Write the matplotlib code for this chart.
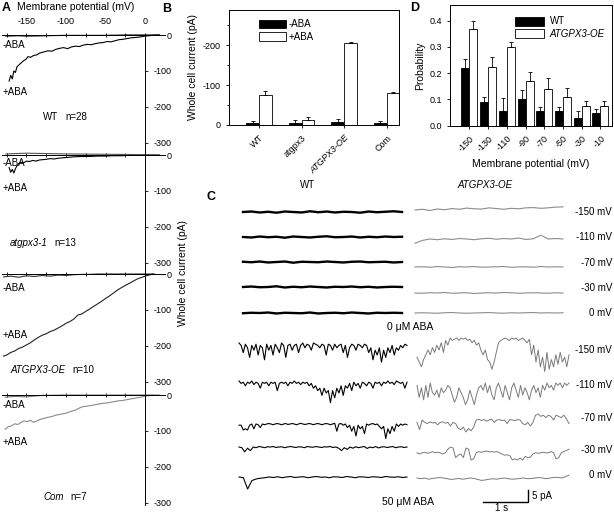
import numpy as np
import matplotlib.pyplot as plt
from matplotlib.patches import Patch

plt.rcParams['font.family'] = ['Liberation Sans', 'DejaVu Sans']
plt.rcParams['font.size'] = 7
plt.rcParams['axes.linewidth'] = 0.7
plt.rcParams['axes.unicode_minus'] = False

# ---------------- panel A : I-V curves (mV, pA) ----------------
wt_plus_mv = [-172, -170, -168, -166, -164, -162, -160, -157, -154, -151, -148, -145, -141, -137, -133,
              -128, -123, -118, -113, -108, -103, -98, -93, -88, -83, -78, -73, -68, -63, -58, -53, -48,
              -43, -38, -33, -28, -23, -18, -13, -8, -3, 0, 5, 10, 18]
wt_plus_pa = [-128, -112, -122, -100, -104, -88, -84, -78, -72, -68, -60, -62, -57, -55, -50,
              -47, -44, -45, -40, -37, -35, -38, -33, -31, -32, -28, -26, -27, -24, -22, -21, -18,
              -19, -16, -13, -12, -10, -8, -7, -6, -4, -3, -2, -1, 0]
wt_minus_mv = [-176, -160, -150, -125, -100, -75, -50, -25, 0, 18]
wt_minus_pa = [-3, -2, -3, -2, -1, -1, -1, 0, 0, 0]

gpx_plus_mv = [-172, -170, -168, -166, -164, -162, -160, -157, -154, -150, -146, -142, -138, -134, -130,
               -125, -120, -115, -110, -105, -100, -90, -80, -70, -60, -50, -40, -30, -20, -10, 0, 10, 18]
gpx_plus_pa = [-35, -48, -40, -50, -38, -30, -24, -20, -22, -17, -18, -15, -17, -14, -13,
               -12, -10, -11, -9, -8, -7, -5, -4, -4, -3, -3, -2, -2, -1, -1, 0, 0, 0]
gpx_minus_mv = [-176, -150, -125, -100, -50, 0, 18]
gpx_minus_pa = [3, 5, 4, 3, 2, 1, 0]

oe_plus_mv = [-179, -175, -170, -165, -160, -155, -150, -145, -140, -135, -130, -125, -120, -115, -110,
              -105, -100, -95, -90, -85, -80, -75, -70, -65, -60, -55, -50, -45, -40, -35, -30, -25,
              -20, -15, -10, -5, 0, 5, 10]
oe_plus_pa = [-228, -225, -218, -214, -207, -203, -197, -191, -183, -176, -170, -166, -160, -156, -150,
              -144, -137, -132, -125, -114, -111, -104, -97, -90, -83, -76, -68, -61, -53, -45, -38, -32,
              -26, -20, -14, -10, -6, -3, 0]
oe_minus_mv = [-179, -170, -160, -150, -140, -130, -120, -110, -100, -90, -80, -70, -60, 0, 12]
oe_minus_pa = [-8, -6, -9, -5, -7, -4, -6, -3, -4, -2, -1, -1, 0, 0, 0]

com_plus_mv = [-177, -173, -169, -165, -161, -157, -153, -149, -145, -141, -137, -133, -128, -123, -118,
               -113, -108, -103, -98, -93, -88, -83, -78, -73, -68, -63, -58, -53, -48, -43, -38, -33,
               -28, -23, -18, -13, -8, -3, 2, 10]
com_plus_pa = [-95, -88, -86, -80, -82, -76, -72, -74, -70, -76, -72, -68, -65, -62, -60,
               -56, -54, -52, -49, -45, -42, -36, -32, -31, -29, -27, -25, -23, -22, -20, -18, -16,
               -15, -13, -11, -9, -7, -5, -3, 0]
com_minus_mv = [-177, -165, -150, -140, -130, -100, -50, 0, 18]
com_minus_pa = [-6, -4, -5, -3, -1, 0, 0, 0, 0]

a_names = ['WT', 'atgpx3-1', 'ATGPX3-OE', 'Com']
a_n = [28, 13, 10, 7]

# ---------------- panel B : whole cell current ----------------
b_labels = ['WT', 'atgpx3', 'ATGPX3-OE', 'Com']
b_minus = [6, 5, 8, 6]
b_minus_err = [3, 7, 6, 4]
b_plus = [76, 13, 206, 80]
b_plus_err = [10, 7, 3, 3]

# ---------------- panel D : open probability ----------------
d_labels = ['-150', '-130', '-110', '-90', '-70', '-50', '-30', '-10']
d_wt = [0.22, 0.09, 0.055, 0.10, 0.055, 0.055, 0.03, 0.05]
d_wt_err = [0.035, 0.02, 0.05, 0.035, 0.015, 0.015, 0.025, 0.015]
d_oe = [0.37, 0.225, 0.30, 0.17, 0.14, 0.11, 0.075, 0.075]
d_oe_err = [0.03, 0.035, 0.02, 0.035, 0.04, 0.035, 0.02, 0.02]

# ---------------- panel C : single channel traces (pA) ----------------
c_volts = ['-150 mV', '-110 mV', '-70 mV', '-30 mV', '0 mV']
wt_ctrl = [
    [0, 0.2, -0.2, 0.1, -0.3, 0.2, 0, -0.2, 0.3, -0.1, 0.2, -0.2, 0.1, 0, -0.3, 0.2, -0.1, 0.1, 0.3, 0],
    [0, -0.2, 0.2, -0.1, 0.1, -0.3, 0.2, 0, -0.2, 0.1, 0.3, -0.1, 0, 0.2, -0.2, 0.1, -0.1, 0.2, 0, 0.1],
    [0.1, -0.1, 0.2, -0.2, 0, 0.2, -0.3, 0.1, 0, -0.1, 0.2, 0, -0.2, 0.1, 0.2, -0.1, 0, 0.1, -0.2, 0],
    [0, 0.2, -0.1, 0, 0.3, -0.2, 0.1, -0.1, 0.2, 0, -0.2, 0.1, 0, 0.2, -0.1, 0.1, -0.2, 0, 0.1, 0],
    [-0.1, 0.1, 0, 0.2, -0.2, 0.1, 0, -0.1, 0.2, -0.2, 0, 0.1, -0.1, 0.2, 0, -0.2, 0.1, 0, 0.1, 0],
]
oe_ctrl = [
    [0, 0.3, -0.2, 0.4, 0.1, 0.6, 0.3, 0.8, 0.5, 0.4, 0.9, 0.6, 0.3, 0.7, 0.5, 0.9, 1.0, 0.7, 0.9, 1.2, 1.3],
    [-1.8, -0.6, 0, -0.3, 0.1, -0.2, 0.2, 0, -0.3, 0.1, 0.3, -0.1, 0.2, 0, 0.4, -0.2, 0.1, 1.6, 0, 0.2, 0],
    [0, 0.1, -0.1, 0.2, 0, -0.2, 0.1, 0, 0.2, -0.1, 0, 0.1, 0.2, -0.1, 0, 0.1, -0.1, 0.2, 0, 0.1, 0],
    [0, -0.1, 0.1, 0, 0.2, -0.1, 0, 0.1, -0.2, 0, 0.1, 0, 0.2, 0.1, -0.1, 0, 0.1, 0, -0.1, 0.1, 0],
    [0, 0.1, 0, -0.1, 0.1, 0.2, 0, -0.1, 0, 0.1, 0.2, 0, -0.1, 0.1, 0, 0.1, 0.2, 0, 0.1, 0, 0.1],
]
wt_aba_150 = [0, -1, -4, -0.5, -2, -6, -1, -3, -0.5, -5, -1, -2, -7, -0.5, -3, -1, -5, -0.5, -2, -4,
              0, -1, -6, -1, -0.5, -3, -1, -0.5, -4, -1, 0, -2, -0.5, -1, -3, 0, -0.5, -1, -2, -0.5,
              -1, -5, -0.5, -1, -3, -0.5, -2, -1, -0.5, -4, -1, -6, -2, -0.5, -1, -3, -0.5, -1, -2, -0.5,
              -1, -4, -2, -7, -3, -5, -2, -8, -3, -6, -2, -4, -1, -5, -2, -3, -1, -2, -0.5, -1]
wt_aba_110 = [0, -1, -0.5, -2, -0.5, -1, 0, -1.5, -0.5, -1, -3, -0.5, -1, -0.5, -2, -0.5, -1, -0.5, -4, -1,
              -0.5, -1, -0.5, -2, -0.5, -1, 0, -1, -0.5, -1.5, -0.5, -1, -0.5, -2, -1, -3, -2, -4, -3, -6,
              -3, -5, -4, -9, -4, -7, -3, -5, -2, -6, -2, -3, -1, -4, -0.5, -2, -1, -3, -0.5, -1,
              -2, -0.5, -1, -3, -0.5, -1, -0.5, -2, -0.5, -1, 0, -1, -0.5, -1.5, 0, -0.5, -1, -0.5, -3, -0.5]
wt_aba_70 = [-0.5, -0.5, -2.5, -2, -2.5, -0.5, 0, -2, 0, -0.3, -1.5, 0, -0.3, 0, 0.2, 0, -0.3, 0, 0.2, 0,
             -0.3, 0, 0.2, -0.2, 0, 0.2, 0, -0.3, 0, 0.3, 0, -0.2, 0, 0.2, 0, -0.3, 0, 0.2, 0, -0.3,
             0, 0.2, 0, -0.3, 0, 0.3, -3, 0, 0.2, -0.5, 0, -1.5, -0.5, -3, -1, -5, -0.5, -2, -1, -4,
             0, -0.5, 0, 0.2, -0.3, 0, -1, -2, -1, -6, -2, -4, -1, -3, 0, -1, 0, -0.5, 0, -0.3]
wt_aba_30 = [0, -0.3, -2, -0.5, -1.5, 0, -0.3, 0.2, 0, -0.3, 0.1, 0, 0.2, -0.2, 0, 0.1, -0.3, 0, 0.2, 0,
             -0.2, 0.1, 0, -0.3, 0.2, 0, -0.1, 0.2, 0, -0.2, 0.1, 0, 0.2, -0.2, 0, -0.5, -1.5, -0.3, -1, 0,
             -0.5, 0.1, -0.3, 0, 0.2, -0.6, 0, -0.3, 0.2, -0.4, 0, 0.1, -0.2, 0, 0.2, -0.3, 0, 0.1, -0.2, 0]
wt_aba_0 = [0, -0.3, -5, -1.5, -0.8, -0.5, -0.3, 0, -0.2, 0.1, -0.3, 0, 0.2, -0.2, 0, 0.1, -0.3, 0, 0.2, -0.1,
            0, -0.3, 0.1, 0, -0.2, 0.2, 0, -0.3, 0.1, 0, -0.2, 0.1, 0, -0.2, 0.2, 0, -0.1, 0.1, -0.2, 0]
oe_aba_150 = [-8, -10, -12, -9, -7, -5, -7, -4, -6, -3, -5, -2, -6, -1, -3, 0, -1, -0.5, 0, -1,
              0, -0.5, 0, -1, -0.5, -2, -1, -3, -2, -5, -7, -5, -9, -10, -13, -10, -6, -2, -1, -0.5,
              0, -0.5, -1, 0, -0.5, 0, -1, -0.5, 0, -1, -2, -0.5, -7, -3, -10, -5, -12, -8, -14, -6,
              -13, -9, -12, -7, -11, -6, -10, -8, -12, -7]
oe_aba_110 = [-1, -6, -2, -7, -1, -6, 0, -4, -5, -3, -6, -2, -4, -3, -1, -2, -5, -8, -6, -2,
              -4, -6, -9, -7, -3, -6, -9, -5, -2, -1, -3, 0, -4, -1, -5, -7, -2, 0, -3, -6,
              -1, -4, -7, -2, 0, -3, -6, -1, -5, -2, -4, -7, -3, -1, -4, -2, -6, -1, -3, 0,
              -2, -1, -3, 0, -1, 0, -2, 0, -1, 0]
oe_aba_70 = [-1, -4, 0, -1, -1.5, -0.8, -1.2, -1, -2, -1, -0.8, -1.3, -1, -2.5, -1, -1.5,
             -3.5, -4, -3, -5, -3.5, -4.5, -3,
             0, 0.3, -0.2, 0.2, -0.5, 0, 0.3, -1, 0, 0.2, -0.3, 0, -1.5, 0.2, 0, -0.3, 0.2, 0,
             -1.5, -2, -1, -2.5, -1,
             2, 2.5, 1.5, 2, 1, 2, 1.5, 0, 2, 1.5, 1, 2, 0.5, -1.5]
oe_aba_30 = [-2, -2.5, -2, -1.8, -2.2, -2, -1.5, -2, -1.8, -2, -2.5, -2, -0.5, 0.4, 0, -4, -3, -2.5, -4, 0,
             -0.5, -5, -4.5, -2, -1.5, -1.8, -1.5, -1.3, -1.6, -1.5, -1.7, -1.5, -2, -2.5, -3, -2.8, -3.2, -5, -4.5, -5,
             -4.2, -5, -3.5, -4, -3.8, -2.5, -2, -2.2, -2, -1.8, -2, -2, -1.5, -2, -4.5, -4, -2, -1.5, -1, -0.5]
oe_aba_0 = [0, -0.3, 0, -0.5, -0.2, 0, 0.2, 0, -0.3, -0.6, -0.4, -0.2, -0.5, -0.3, 0, -0.2, -0.6, -1, -0.8, -0.5,
            -0.3, -0.5, -0.2, 0, -0.3, -0.5, -0.4, -0.2, 0, -0.3, -0.2, 0, 0.2, 0, -0.3, 0, 0.2, 0.3, 0, 0.5, 1.2]
wt_aba = [wt_aba_150, wt_aba_110, wt_aba_70, wt_aba_30, wt_aba_0]
oe_aba = [oe_aba_150, oe_aba_110, oe_aba_70, oe_aba_30, oe_aba_0]

W, H = 614, 514
fig = plt.figure(figsize=(W / 100, H / 100), dpi=100)
renderer = fig.canvas.get_renderer()


def box(x0, y0, x1, y1):
    return [x0 / W, 1 - y1 / H, (x1 - x0) / W, (y1 - y0) / H]


def ft(x, y, s, **kw):
    kw.setdefault('va', 'center')
    return fig.text(x / W, 1 - y / H, s, **kw)


# ======== A ========
curves = [(wt_minus_mv, wt_minus_pa, wt_plus_mv, wt_plus_pa, 'black', 'black'),
          (gpx_minus_mv, gpx_minus_pa, gpx_plus_mv, gpx_plus_pa, '#555555', 'black'),
          (oe_minus_mv, oe_minus_pa, oe_plus_mv, oe_plus_pa, '#333333', '#222222'),
          (com_minus_mv, com_minus_pa, com_plus_mv, com_plus_pa, '#777777', '#8a8a8a')]
a_tops = [25, 145, 264, 385]
minus_y = [45, 163, 288, 405]
plus_y = [92, 188, 335, 442]
name_y = [117, 243, 370, 497]
name_x = [43, 10, 10, 43]
for i, top in enumerate(a_tops):
    ax = fig.add_axes(box(2, top, 165, top + 120))
    ax.patch.set_alpha(0)
    ax.set_xlim(-181, 25.3)
    ax.set_ylim(-305.6, 27.8)
    mmv, mpa, pmv, ppa, cm, cp = curves[i]
    ax.plot(pmv, ppa, color=cp, lw=0.8)
    ax.plot(mmv, mpa, color=cm, lw=0.8)
    ax.spines['left'].set_visible(False)
    ax.spines['bottom'].set_visible(False)
    ax.spines['right'].set_position(('data', 0))
    ax.spines['right'].set_bounds(-305.6, 27.8 if i > 0 else 0)
    ax.spines['top'].set_position(('data', 0))
    ax.yaxis.tick_right()
    ax.set_yticks([0, -100, -200, -300])
    ax.set_yticklabels(['0', '-100', '-200', '-300'])
    ax.tick_params(axis='y', direction='out', length=2, width=0.6, pad=17, labelsize=6.5)
    for lb in ax.get_yticklabels():
        lb.set_horizontalalignment('right')
    ax.xaxis.tick_top()
    ax.set_xticks([-150, -100, -50, 0])
    ax.set_xticks([-175, -125, -75, -25], minor=True)
    ax.tick_params(axis='x', which='both', direction='inout', length=3, width=0.6, pad=5, labelsize=6.5,
                   labeltop=(i == 0))
    ft(3, minus_y[i], '-ABA', fontsize=7)
    ft(3, plus_y[i], '+ABA', fontsize=7)
    t = ft(name_x[i], name_y[i], a_names[i], fontsize=7,
           style='normal' if a_names[i] == 'WT' else 'italic')
    x_end = t.get_window_extent(renderer).x1
    ft(x_end + 7, name_y[i], 'n=%d' % a_n[i], fontsize=7)

ft(2, 8, 'A', fontsize=9, weight='bold')
ft(17, 7, 'Membrane potential (mV)', fontsize=7.5)
ft(183, 273, 'Whole cell current (pA)', fontsize=7.5, rotation=90, ha='center')

# ======== B ========
axB = fig.add_axes(box(229, 10, 399, 125))
xb = np.arange(len(b_labels))
ekw = dict(elinewidth=0.6, capsize=1.5, capthick=0.6, ecolor='black')
axB.bar(xb - 0.15, b_minus, 0.3, color='black', edgecolor='black', lw=0.6,
        yerr=[np.zeros(4), b_minus_err], error_kw=ekw, label='-ABA')
axB.bar(xb + 0.15, b_plus, 0.3, color='white', edgecolor='black', lw=0.6,
        yerr=[np.zeros(4), b_plus_err], error_kw=ekw, label='+ABA')
axB.set_xlim(-0.706, 3.29)
axB.set_ylim(0, 288)
axB.set_yticks([0, 100, 200])
axB.set_yticklabels(['0', '-100', '-200'])
axB.set_yticks([50, 150, 250], minor=True)
axB.set_xticks(xb)
axB.set_xticklabels(b_labels, rotation=45, ha='right', rotation_mode='anchor')
axB.get_xticklabels()[2].set_style('italic')
axB.tick_params(axis='both', which='both', labelsize=6.5, length=2.5, width=0.6)
axB.tick_params(axis='y', which='minor', length=1.5)
axB.set_ylabel('Whole cell current (pA)', fontsize=7.5, labelpad=3)
axB.legend(handles=[Patch(facecolor='black', edgecolor='black', lw=0.6),
                    Patch(facecolor='white', edgecolor='black', lw=0.6)],
           labels=['-ABA', '+ABA'], loc='upper left', bbox_to_anchor=(0.15, 0.96), frameon=False,
           borderpad=0, handlelength=2.7, handleheight=1.0, labelspacing=0.25, handletextpad=0.3,
           fontsize=7)
ft(162, 9, 'B', fontsize=9, weight='bold')

# ======== D ========
axD = fig.add_axes(box(450, 5, 612, 125.7))
xd = np.arange(len(d_labels))
axD.bar(xd - 0.215, d_wt, 0.43, color='black', edgecolor='black', lw=0.6,
        yerr=[np.zeros(8), d_wt_err], error_kw=ekw)
axD.bar(xd + 0.215, d_oe, 0.43, color='white', edgecolor='black', lw=0.6,
        yerr=[np.zeros(8), d_oe_err], error_kw=ekw)
axD.set_xlim(-1.04, 7.62)
axD.set_ylim(0, 0.46)
axD.set_yticks([0, 0.1, 0.2, 0.3, 0.4])
axD.set_yticklabels(['0.0', '0.1', '0.2', '0.3', '0.4'])
axD.set_xticks(xd)
axD.set_xticklabels(d_labels, rotation=45, ha='right', rotation_mode='anchor')
axD.tick_params(axis='both', labelsize=6.5, length=2.5, width=0.6)
axD.set_ylabel('Probability', fontsize=7.5, labelpad=3)
axD.set_xlabel('Membrane potential (mV)', fontsize=7.5, labelpad=4)
leg = axD.legend(handles=[Patch(facecolor='black', edgecolor='black', lw=0.6),
                          Patch(facecolor='white', edgecolor='black', lw=0.6)],
                 labels=['WT', 'ATGPX3-OE'], loc='upper left', bbox_to_anchor=(0.37, 0.945), frameon=False,
                 borderpad=0, handlelength=3.0, handleheight=1.0, labelspacing=0.25, handletextpad=0.6,
                 fontsize=7)
leg.get_texts()[1].set_style('italic')
ft(410, 8, 'D', fontsize=9, weight='bold')

# ======== C ========
axC = fig.add_axes(box(200, 175, 614, 514))
axC.set_xlim((200 - 239) / 45, (614 - 239) / 45)
axC.set_ylim(-(514 - 175) * 5 / 12, 0)
axC.axis('off')


def yoff(py):
    return -(py - 175) * 5 / 12


def tsec(px):
    return (px - 239) / 45


ctrl_wt_y = [212, 237, 262, 287, 313]
ctrl_oe_y = [210, 239, 267, 293, 313]
aba_wt_y = [343, 381, 424, 447, 477]
aba_oe_y = [338, 383, 420, 448, 478]
for k in range(5):
    v = np.array(wt_ctrl[k])
    axC.plot(np.linspace(tsec(243), tsec(402), len(v)), v + yoff(ctrl_wt_y[k]), color='black', lw=1.7)
    v = np.array(oe_ctrl[k])
    axC.plot(np.linspace(tsec(415), tsec(563), len(v)), v + yoff(ctrl_oe_y[k]), color='#8c8c8c', lw=0.8)
    v = np.array(wt_aba[k])
    axC.plot(np.linspace(tsec(239), tsec(407), len(v)), v + yoff(aba_wt_y[k]), color='black', lw=0.8)
    v = np.array(oe_aba[k])
    axC.plot(np.linspace(tsec(417), tsec(569), len(v)), v + yoff(aba_oe_y[k]), color='#7a7a7a', lw=0.7)

# scale bar: 1 s, 5 pA
sb_t = tsec(483)
sb_y = yoff(502)
axC.plot([sb_t, sb_t + 1, sb_t + 1], [sb_y, sb_y, sb_y + 5], color='black', lw=1.0)
ft(532, 496, '5 pA', fontsize=7)
ft(502, 508, '1 s', fontsize=7, ha='center')

ctrl_lab_y = [212, 237, 263, 288, 313]
aba_lab_y = [350, 385, 418, 450, 475]
for k in range(5):
    ft(612, ctrl_lab_y[k], c_volts[k], fontsize=7, ha='right')
    ft(612, aba_lab_y[k], c_volts[k], fontsize=7, ha='right')

ft(211, 197, 'C', fontsize=9, weight='bold', ha='center')
ft(308, 185, 'WT', fontsize=7, ha='center')
ft(485, 185, 'ATGPX3-OE', fontsize=7, ha='center', style='italic')
ft(410, 327, '0 \u03bcM ABA', fontsize=7.5, ha='center')
ft(408, 502, '50 \u03bcM ABA', fontsize=7.5, ha='center')

fig.savefig('out.png', dpi=100)
